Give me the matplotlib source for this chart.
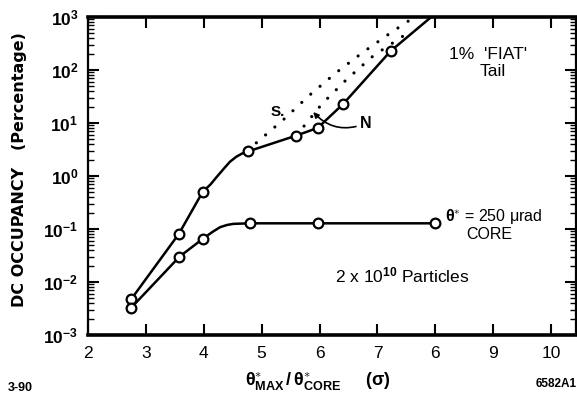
import matplotlib
matplotlib.use('Agg')
import matplotlib.pyplot as plt

plt.rcParams['font.family'] = ['Liberation Sans', 'DejaVu Sans']
plt.rcParams['mathtext.fontset'] = 'custom'
plt.rcParams['mathtext.rm'] = 'Liberation Sans'
plt.rcParams['mathtext.bf'] = 'Liberation Sans:bold'
plt.rcParams['mathtext.it'] = 'Liberation Sans:italic'
plt.rcParams['mathtext.sf'] = 'Liberation Sans'

# ---- data ----
# "N" curve: measured points (circles)
n_x = [2.75, 3.57, 3.98, 4.76, 5.60, 5.97, 6.41, 7.23]
n_y = [0.0048, 0.081, 0.50, 2.9, 5.8, 8.1, 23, 229]
# "N" curve as drawn (includes the bend between 4 and 4.8 and the run to the top)
n_line_x = [2.75, 3.57, 3.98, 4.12, 4.22, 4.34, 4.45, 4.56, 4.66, 4.76, 5.60, 5.97, 6.41, 7.23, 8.0]
n_line_y = [0.0048, 0.081, 0.50, 0.70, 0.95, 1.35, 1.85, 2.3, 2.65, 2.9, 5.8, 8.1, 23, 229, 1160]

# theta*_CORE = 250 urad curve
core_x = [2.75, 3.58, 3.98, 4.79, 5.98, 7.99]
core_y = [0.0033, 0.030, 0.065, 0.128, 0.128, 0.128]
core_line_x = [2.75, 3.58, 3.98, 4.15, 4.28, 4.40, 4.51, 4.79, 5.98, 7.99]
core_line_y = [0.0033, 0.030, 0.065, 0.088, 0.108, 0.119, 0.125, 0.128, 0.128, 0.128]

# "S" dotted curves
s_upper_x = [4.76, 4.91, 5.37, 5.82, 6.28, 6.75, 7.24, 7.57, 7.70]
s_upper_y = [2.9, 4.25, 11.4, 33, 88, 216, 514, 890, 1100]
s_lower_x = [5.60, 6.04, 6.47, 6.93, 7.42, 7.60]
s_lower_y = [5.8, 22.8, 66.8, 186, 420, 570]

x_ticks = [2, 3, 4, 5, 6, 7, 8, 9, 10]
x_tick_labels = ['2', '3', '4', '5', '6', '7', '6', '9', '10']
y_ticks = [1e-3, 1e-2, 1e-1, 1e0, 1e1, 1e2, 1e3]
y_tick_labels = [r'$\mathbf{10^{-3}}$', r'$\mathbf{10^{-2}}$', r'$\mathbf{10^{-1}}$',
                 r'$\mathbf{10^{0}}$', r'$\mathbf{10^{1}}$', r'$\mathbf{10^{2}}$',
                 r'$\mathbf{10^{3}}$']

fig = plt.figure(figsize=(5.77, 3.98), dpi=100)
ax = fig.add_axes([88/577, 1-335/398, (576-88)/577, (335-17)/398])
ax.set_yscale('log')
ax.set_xlim(2, 10.43)
ax.set_ylim(1e-3, 1e3)

lw = 1.8
ax.plot(n_line_x, n_line_y, color='black', lw=lw, solid_capstyle='round',
        solid_joinstyle='round', zorder=3)
ax.plot(core_line_x, core_line_y, color='black', lw=lw, solid_joinstyle='round', zorder=3)
ax.plot(n_x, n_y, 'o', ms=7, mfc='white', mec='black', mew=1.6, zorder=4)
ax.plot(core_x, core_y, 'o', ms=7, mfc='white', mec='black', mew=1.6, zorder=4)

for sx, sy in [(s_upper_x, s_upper_y), (s_lower_x, s_lower_y)]:
    ax.plot(sx, sy, color='black', lw=2.3, linestyle=(0, (0.01, 3.8)),
            dash_capstyle='round', zorder=2)

ax.set_xticks(x_ticks)
ax.set_xticklabels(x_tick_labels, fontsize=12.5)
ax.set_yticks(y_ticks)
ax.set_yticklabels(y_tick_labels, fontsize=12.5)
ax.tick_params(axis='both', which='major', direction='in', top=True, right=True,
               length=8, width=1.5)
ax.tick_params(axis='x', which='major', pad=8)
ax.tick_params(axis='y', which='major', pad=7)
ax.tick_params(axis='y', which='minor', direction='in', left=True, right=True,
               length=4, width=1.0)
ax.tick_params(axis='x', which='minor', bottom=False, top=False)
ax.spines['top'].set_linewidth(2.6)
ax.spines['bottom'].set_linewidth(2.6)
ax.spines['left'].set_linewidth(1.6)
ax.spines['right'].set_linewidth(1.6)

# annotations
ax.text(5.28, 16.3, 'S.', fontsize=11, fontweight='bold', ha='center', va='center')
ax.annotate('N', xy=(5.89, 16.1), xytext=(6.70, 9.9), fontsize=11.5,
            fontweight='bold', ha='left', va='center',
            arrowprops=dict(arrowstyle='-|>', color='black', lw=1.2,
                            mutation_scale=8, shrinkA=1, shrinkB=0,
                            connectionstyle='arc3,rad=-0.35'))
ax.text(8.91, 192, "1%  'FIAT'", fontsize=12.5, ha='center', va='center')
ax.text(9.0, 93, 'Tail', fontsize=12.5, ha='center', va='center')
ax.text(8.17, 0.17, r'$\mathbf{\theta}^{\ast}$' + ' = 250 \u03bcrad', fontsize=11.5,
        ha='left', va='center')
ax.text(8.94, 0.078, 'CORE', fontsize=11.5, ha='center', va='center')
ax.text(6.27, 0.0135, r'2 x 10$^{\mathbf{10}}$ Particles', fontsize=12.5,
        ha='left', va='center')

fig.text(20/577, 1-170/398, 'DC OCCUPANCY   (Percentage)', rotation=90,
         fontsize=11.5, fontweight='bold', family='DejaVu Sans',
         ha='center', va='center')
fig.text(318/577, 1-381/398,
         r'$\mathbf{\theta^{\ast}_{MAX}\,/\,\theta^{\ast}_{CORE}}$' + '     (\u03c3)',
         fontsize=13, fontweight='bold', ha='center', va='center')
fig.text(8/577, 1-388/398, '3-90', fontsize=9, fontweight='bold', ha='left', va='center')
fig.text(577/577, 1-384/398, '6582A1', fontsize=8.5, fontweight='bold', ha='right', va='center')

fig.savefig('out.png', dpi=100)
